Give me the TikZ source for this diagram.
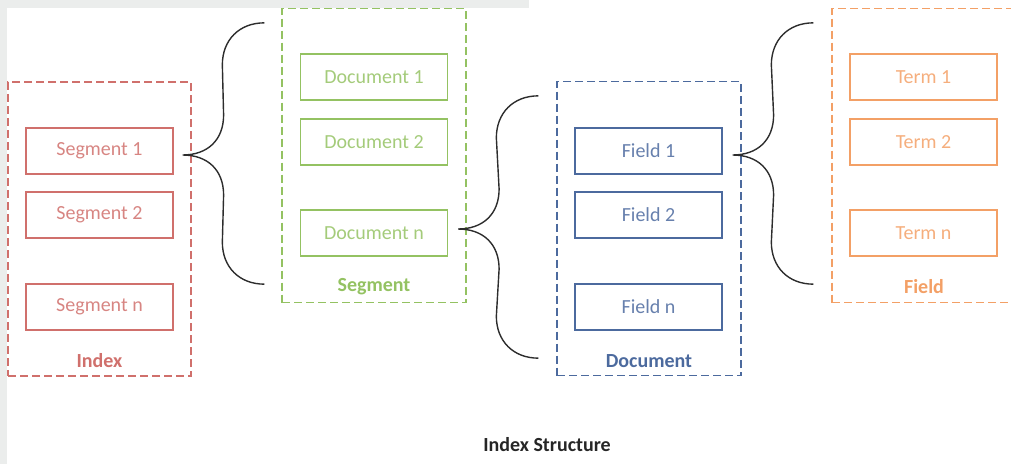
\documentclass[tikz,border=0pt]{standalone}
\usepackage{fontspec}
\setmainfont{Carlito}
\usetikzlibrary{calc,positioning}

\definecolor{idxred}{RGB}{208,112,108}
\definecolor{segreen}{RGB}{148,194,98}
\definecolor{docblue}{RGB}{76,106,158}
\definecolor{fldorange}{RGB}{243,160,102}
\definecolor{bracegray}{RGB}{45,45,45}
\definecolor{bggray}{RGB}{235,237,236}

\tikzset{
  container/.style={draw=#1, dash pattern=on 8pt off 4pt, line width=1.3pt,
    minimum width=184pt, minimum height=294pt},
  item/.style={draw=#1, text=#1!85, line width=1.2pt,
    minimum width=147pt, minimum height=46pt, font=\fontsize{20}{24}\selectfont},
  caption/.style={text=#1, font=\fontsize{20}{24}\selectfont\bfseries},
  brace/.style={draw=bracegray, line width=1.4pt},
}

% curly brace: #1 tip, #2 upper end, #3 lower end
\newcommand{\drawbrace}[3]{%
  \draw[brace] (#2) .. controls ($(#2)+(-25,0)$) and ($(#2)+(-42,17)$) .. ($(#2)+(-42,42)$)
    -- ($(#1)+(41,-40)$) .. controls ($(#1)+(41,-15)$) and ($(#1)+(25,0)$) .. (#1)
    .. controls ($(#1)+(25,0)$) and ($(#1)+(41,15)$) .. ($(#1)+(41,40)$)
    -- ($(#3)+(-42,-42)$) .. controls ($(#3)+(-42,-17)$) and ($(#3)+(-25,0)$) .. (#3);
}

\begin{document}
\begin{tikzpicture}[x=1pt,y=-1pt]
  \useasboundingbox (0,0) rectangle (1011,464);
  \fill[bggray] (0,0) rectangle (529,8);
  \fill[bggray] (0,0) rectangle (7,464);

  % the four levels
  \node[container=idxred, minimum width=183pt] (idxbox) at (99.5,229) {};
  \node[container=segreen] (segbox) at (374,155.5) {};
  \node[container=docblue] (docbox) at (649,228.5) {};
  \node[container=fldorange] (fldbox) at (924,155.5) {};

  \foreach \k/\yy in {1/151,2/215,n/307}
    \node[item=idxred] (seg\k) at (99.5,\yy) {Segment \k};
  \foreach \k/\yy in {1/77,2/142,n/233}
    \node[item=segreen] (doc\k) at (374,\yy) {Document \k};
  \foreach \k/\yy in {1/151,2/215,n/307}
    \node[item=docblue] (fld\k) at (648.5,\yy) {Field \k};
  \foreach \k/\yy in {1/77,2/142,n/233}
    \node[item=fldorange] (term\k) at (923.5,\yy) {Term \k};

  \node[caption=idxred] (idxlab) at (99.5,361) {Index};
  \node[caption=segreen] (seglab) at (374,287) {Segment};
  \node[caption=docblue] (doclab) at (649,361) {Document};
  \node[caption=fldorange] (fldlab) at (924,287) {Field};

  \node[caption=black!85] (title) at (547,445) {Index Structure};

  % braces
  \coordinate (tipA) at ([xshift=9pt,yshift=-4pt]seg1.east);
  \coordinate (topA) at ($(segbox.north west)+(-17,15)$);
  \coordinate (botA) at ($(segbox.south west)+(-17,-19)$);
  \drawbrace{tipA}{topA}{botA}

  \coordinate (tipB) at ([xshift=10pt,yshift=4pt]docn.east);
  \coordinate (topB) at ($(docbox.north west)+(-18,15)$);
  \coordinate (botB) at ($(docbox.south west)+(-18,-18)$);
  \drawbrace{tipB}{topB}{botB}

  \coordinate (tipC) at ([xshift=10pt,yshift=-4pt]fld1.east);
  \coordinate (topC) at ($(fldbox.north west)+(-18,15)$);
  \coordinate (botC) at ($(fldbox.south west)+(-18,-19)$);
  \drawbrace{tipC}{topC}{botC}
\end{tikzpicture}
\end{document}
